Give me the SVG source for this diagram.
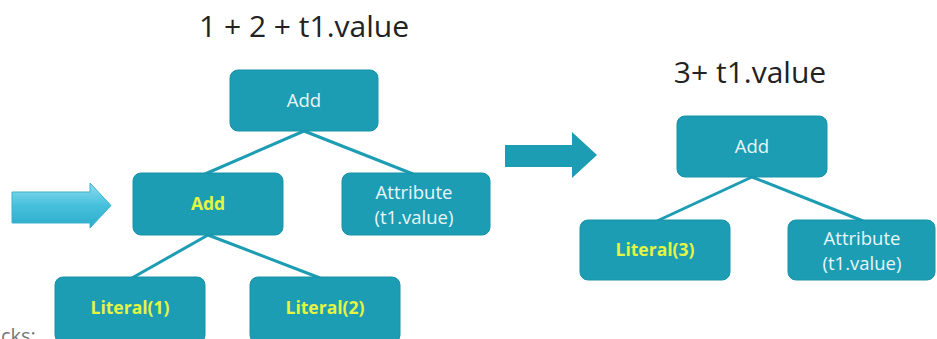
<svg xmlns="http://www.w3.org/2000/svg" width="937" height="339" viewBox="0 0 937 339">
  <style>
    .node rect { fill: #1c9db3; stroke: #1792a8; stroke-width: 1; }
    .lbl { font-family: "Open Sans", "Noto Sans", sans-serif; font-size: 18.5px; fill: #e9f6f8; text-anchor: middle; }
    .hl { font-family: "Open Sans", "Noto Sans", sans-serif; font-size: 17.5px; font-weight: bold; fill: #e4f542; text-anchor: middle; }
    .title { font-family: "Open Sans", "Noto Sans", sans-serif; fill: #222; text-anchor: middle; }
    .edge { stroke: #1c9db3; stroke-width: 3; fill: none; }
  </style>
  <defs>
    <linearGradient id="inArrow" x1="0" y1="0" x2="0" y2="1">
      <stop offset="0" stop-color="#8fdcef"/>
      <stop offset="0.5" stop-color="#47c0dc"/>
      <stop offset="1" stop-color="#2aaccb"/>
    </linearGradient>
  </defs>
  <rect width="937" height="339" fill="#ffffff"/>

  <!-- titles -->
  <text class="title" x="304" y="37" font-size="30">1 + 2 + t1.value</text>
  <text class="title" x="750" y="83" font-size="30">3+ t1.value</text>

  <!-- partial caption at the lower left -->
  <text x="1" y="343" font-family="Open Sans, sans-serif" font-size="20" fill="#777">cks:</text>

  <!-- connectors -->
  <g id="connectors">
    <line class="edge" x1="304" y1="131" x2="205" y2="174"/>
    <line class="edge" x1="304" y1="131" x2="413" y2="174"/>
    <line class="edge" x1="208" y1="235" x2="132" y2="278"/>
    <line class="edge" x1="208" y1="235" x2="320" y2="278"/>
    <line class="edge" x1="752" y1="177" x2="657" y2="221"/>
    <line class="edge" x1="752" y1="177" x2="863" y2="221"/>
    <!-- block arrows -->
    <path d="M12,192 L90,192 L90,183 L111,205.5 L90,228 L90,223 L12,223 Z" fill="url(#inArrow)" stroke="#3ab2cf" stroke-width="1"/>
    <path d="M505,145 L572,145 L572,132 L597,155 L572,178 L572,167 L505,167 Z" fill="#1c9db3"/>
  </g>

  <!-- left tree -->
  <g id="add-root" class="node">
    <rect x="230" y="70" width="148" height="61" rx="8"/>
    <text class="lbl" x="304" y="107">Add</text>
  </g>
  <g id="add-inner" class="node">
    <rect x="133" y="173" width="150" height="62" rx="8"/>
    <text class="hl" x="208" y="210">Add</text>
  </g>
  <g id="attr-left" class="node">
    <rect x="342" y="173" width="148" height="62" rx="8"/>
    <text class="lbl" x="414" y="199">Attribute</text>
    <text class="lbl" x="414" y="224">(t1.value)</text>
  </g>
  <g id="literal-1" class="node">
    <rect x="55" y="277" width="150" height="66" rx="8"/>
    <text class="hl" x="130" y="314">Literal(1)</text>
  </g>
  <g id="literal-2" class="node">
    <rect x="250" y="277" width="150" height="66" rx="8"/>
    <text class="hl" x="325" y="314">Literal(2)</text>
  </g>

  <!-- right tree -->
  <g id="add-folded" class="node">
    <rect x="677" y="116" width="150" height="61" rx="8"/>
    <text class="lbl" x="752" y="153">Add</text>
  </g>
  <g id="literal-3" class="node">
    <rect x="580" y="220" width="150" height="60" rx="8"/>
    <text class="hl" x="655" y="256">Literal(3)</text>
  </g>
  <g id="attr-right" class="node">
    <rect x="788" y="220" width="147" height="60" rx="8"/>
    <text class="lbl" x="862" y="245">Attribute</text>
    <text class="lbl" x="862" y="270">(t1.value)</text>
  </g>
</svg>
